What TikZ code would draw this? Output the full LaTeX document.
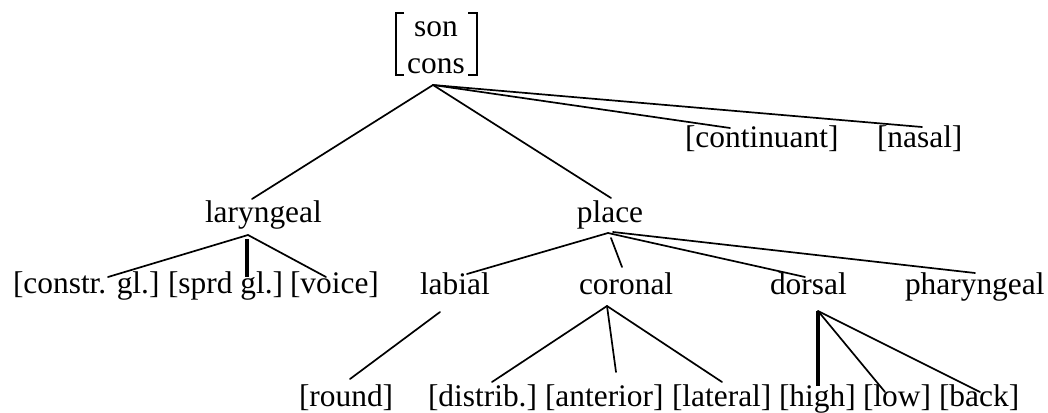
\documentclass[tikz,border=0pt]{standalone}
\usepackage{fontspec}
\setmainfont{Liberation Serif}
\begin{document}
\begin{tikzpicture}[x=1pt,y=-1pt,
  lbl/.style={inner sep=0pt, outer sep=0pt, anchor=base west, font=\fontsize{31.4}{37.7}\selectfont},
  edge/.style={line width=1.7pt, line cap=round},
  thk/.style={line width=3.4pt},
  brk/.style={line width=1.3pt}]
\useasboundingbox (0,0) rectangle (1048,412);
% row 1
\node[lbl, anchor=base] (son) at (436,37) {son};
\node[lbl, anchor=base] (cons) at (436,73) {cons};
\draw[brk] (404,13) -- (396,13) -- (396,75) -- (404,75);
\draw[brk] (468,13) -- (477,13) -- (477,75) -- (468,75);
% row 2
\node[lbl] (cont) at (685,147) {[continuant]};
\node[lbl] (nasal) at (877,147) {[nasal]};
% row 3
\node[lbl] (lar) at (205,222) {laryngeal};
\node[lbl, anchor=base] (place) at (610,222) {place};
% row 4
\node[lbl] (cg) at (13,293) {[constr. gl.]};
\node[lbl] (sg) at (168,293) {[sprd gl.]};
\node[lbl] (voice) at (290,293) {[voice]};
\node[lbl] (labial) at (420,294) {labial};
\node[lbl] (coronal) at (579,294) {coronal};
\node[lbl] (dorsal) at (770,294) {dorsal};
\node[lbl] (phar) at (905,294) {pharyngeal};
% row 5
\node[lbl] (round) at (299,406) {[round]};
\node[lbl] (distrib) at (428,406) {[distrib.]};
\node[lbl] (anterior) at (545,406) {[anterior]};
\node[lbl] (lateral) at (672,406) {[lateral]};
\node[lbl] (high) at (779,406) {[high]};
\node[lbl] (low) at (863,406) {[low]};
\node[lbl] (back) at (939,406) {[back]};
% connector ends
\coordinate (r0) at (433,85);
\coordinate (larT) at (252,199);
\coordinate (plT) at (611,198);
\coordinate (contT) at (730,128);
\coordinate (nasT) at (922,127);
\coordinate (la0) at (248,235);
\coordinate (cgT) at (108,277);
\coordinate (sg0) at (247,239);
\coordinate (sgT) at (247,277);
\coordinate (voT) at (326,277);
\coordinate (pl0) at (608,233);
\coordinate (labT) at (467,274);
\coordinate (cor0) at (611,238);
\coordinate (corT) at (622,267);
\coordinate (dorT) at (805,277);
\coordinate (ph0) at (613,232);
\coordinate (phT) at (975,273);
\coordinate (lab0) at (440,312);
\coordinate (roT) at (350,379);
\coordinate (co0) at (607,306);
\coordinate (diT) at (492,382);
\coordinate (anT) at (616,372);
\coordinate (ltT) at (722,382);
\coordinate (do0) at (818,311);
\coordinate (hiT) at (818,386);
\coordinate (loT) at (885,392);
\coordinate (baT) at (980,392);
% connectors
\draw[edge] (r0) -- (larT);
\draw[edge] (r0) -- (plT);
\draw[edge] (r0) -- (contT);
\draw[edge] (r0) -- (nasT);
\draw[edge] (la0) -- (cgT);
\draw[thk] (sg0) -- (sgT);
\draw[edge] (la0) -- (voT);
\draw[edge] (pl0) -- (labT);
\draw[edge] (cor0) -- (corT);
\draw[edge] (pl0) -- (dorT);
\draw[edge] (ph0) -- (phT);
\draw[edge] (lab0) -- (roT);
\draw[edge] (co0) -- (diT);
\draw[edge] (co0) -- (anT);
\draw[edge] (co0) -- (ltT);
\draw[thk] (do0) -- (hiT);
\draw[edge] (do0) -- (loT);
\draw[edge] (do0) -- (baT);
\end{tikzpicture}
\end{document}
